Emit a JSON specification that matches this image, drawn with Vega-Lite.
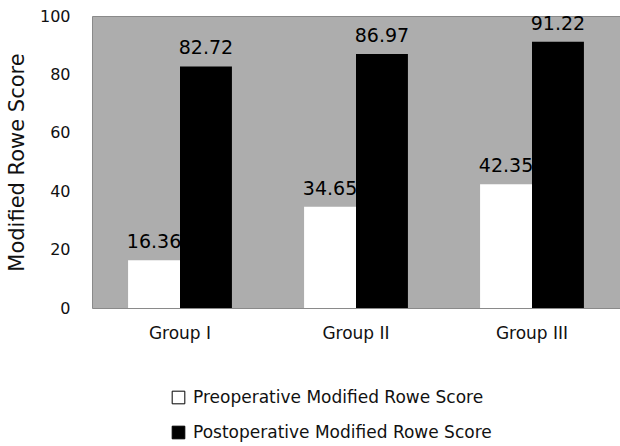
{
  "$schema": "https://vega.github.io/schema/vega-lite/v6.json",
  "width": 528,
  "height": 292,
  "autosize": {"type": "none"},
  "padding": {"left": 92, "top": 16, "right": 0, "bottom": 138},
  "background": "white",
  "config": {
    "font": "DejaVu Sans",
    "view": {"fill": "#adadad", "stroke": "#8a8a8a", "strokeWidth": 1}
  },
  "data": {
    "values": [
      {"group": "Group I", "series": "Preoperative Modified Rowe Score", "score": 16.36, "label": "16.36"},
      {"group": "Group I", "series": "Postoperative Modified Rowe Score", "score": 82.72, "label": "82.72"},
      {"group": "Group II", "series": "Preoperative Modified Rowe Score", "score": 34.65, "label": "34.65"},
      {"group": "Group II", "series": "Postoperative Modified Rowe Score", "score": 86.97, "label": "86.97"},
      {"group": "Group III", "series": "Preoperative Modified Rowe Score", "score": 42.35, "label": "42.35"},
      {"group": "Group III", "series": "Postoperative Modified Rowe Score", "score": 91.22, "label": "91.22"}
    ]
  },
  "encoding": {
    "x": {
      "field": "group", "type": "nominal", "sort": ["Group I", "Group II", "Group III"],
      "scale": {"paddingInner": 0.41, "paddingOuter": 0.205},
      "axis": {"title": null, "labelAngle": 0, "domain": false, "ticks": false, "labelPadding": 17, "labelFontSize": 17, "labelColor": "#111"}
    },
    "xOffset": {"field": "series", "type": "nominal", "sort": ["Preoperative Modified Rowe Score", "Postoperative Modified Rowe Score"]},
    "y": {
      "field": "score", "type": "quantitative",
      "scale": {"domain": [0, 100], "nice": false},
      "axis": {"title": "Modified Rowe Score", "values": [0, 20, 40, 60, 80, 100], "grid": false, "domain": false, "ticks": false, "labelPadding": 22, "labelFontSize": 16, "labelColor": "#111", "titleFontSize": 21, "titleFontWeight": "normal", "titleColor": "#111", "titlePadding": 12}
    }
  },
  "layer": [
    {
      "mark": {"type": "bar"},
      "encoding": {
        "color": {
          "field": "series", "type": "nominal",
          "scale": {"domain": ["Preoperative Modified Rowe Score", "Postoperative Modified Rowe Score"], "range": ["white", "black"]},
          "legend": {
            "title": null, "orient": "none", "legendX": 78, "legendY": 373, "direction": "vertical",
            "symbolType": "square", "symbolSize": 160, "symbolStrokeColor": "black", "symbolStrokeWidth": 1,
            "labelFontSize": 17, "labelColor": "#111", "rowPadding": 17, "labelLimit": 400, "labelOffset": 6
          }
        }
      }
    },
    {
      "mark": {"type": "text", "baseline": "alphabetic", "dy": -12, "fontSize": 19, "color": "black"},
      "encoding": {"text": {"field": "label"}}
    }
  ]
}
